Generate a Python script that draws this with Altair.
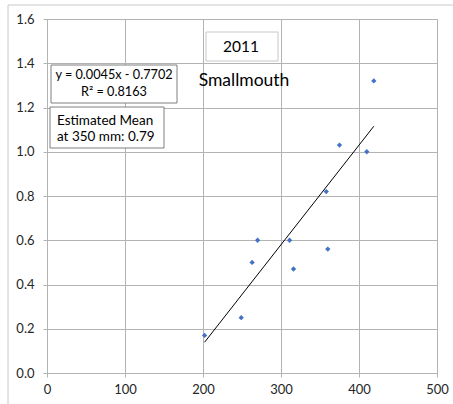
import altair as alt
import pandas as pd

# Data
lengths = [202, 249, 263, 270, 311, 316, 358, 360, 375, 410, 419]
values = [0.17, 0.25, 0.50, 0.60, 0.60, 0.47, 0.82, 0.56, 1.03, 1.00, 1.32]
slope = 0.0045
intercept = -0.7702
x_ticks = [0, 100, 200, 300, 400, 500]
y_ticks = [0.0, 0.2, 0.4, 0.6, 0.8, 1.0, 1.2, 1.4, 1.6]
year_label = "2011"
species_label = "Smallmouth"
eq_lines = ["y = 0.0045x - 0.7702", "R² = 0.8163"]
mean_lines = ["Estimated Mean", "at 350 mm: 0.79"]

FONT = "Lato"
GRID = "#b3b3b3"

pts = pd.DataFrame({"x": lengths, "y": values})
xmin, xmax = min(lengths), max(lengths)
trend = pd.DataFrame({"x": [xmin, xmax],
                      "y": [slope * xmin + intercept, slope * xmax + intercept]})

xscale = alt.Scale(domain=[0, 500], nice=False, zero=False)
yscale = alt.Scale(domain=[0, 1.6], nice=False, zero=False)

xaxis = alt.Axis(values=x_ticks, title=None, grid=True, gridColor=GRID,
                 domainColor=GRID, tickColor=GRID, tickSize=4, labelPadding=6,
                 labelFontSize=13, labelFont=FONT, labelColor="#262626",
                 labelFlush=False)
yaxis = alt.Axis(values=y_ticks, title=None, grid=True, gridColor=GRID,
                 domainColor=GRID, tickColor=GRID, tickSize=4, labelPadding=9,
                 labelFontSize=13, labelFont=FONT, labelColor="#262626",
                 format=".1f", labelFlush=False)

one = pd.DataFrame({"a": [0]})

border = alt.Chart(one).mark_rect(fill=None, stroke="#c8c8c8", strokeWidth=1).encode(
    x=alt.value(-39), x2=alt.value(410), y=alt.value(-14), y2=alt.value(390))

points = alt.Chart(pts).mark_point(shape="diamond", filled=True, size=28,
                                   color="#4472C4", opacity=1).encode(
    x=alt.X("x:Q", scale=xscale, axis=xaxis),
    y=alt.Y("y:Q", scale=yscale, axis=yaxis))

line = alt.Chart(trend).mark_line(color="black", strokeWidth=1).encode(
    x=alt.X("x:Q", scale=xscale), y=alt.Y("y:Q", scale=yscale))

box_year = alt.Chart(one).mark_rect(fill="white", stroke="#c8c8c8", strokeWidth=1).encode(
    x=alt.value(159), x2=alt.value(231), y=alt.value(13), y2=alt.value(42))
txt_year = alt.Chart(one).mark_text(text=year_label, font=FONT, fontSize=15.5,
                                    align="center", baseline="middle", color="black").encode(
    x=alt.value(194), y=alt.value(27.5))
txt_species = alt.Chart(one).mark_text(text=species_label, font=FONT, fontSize=17.5,
                                       align="center", baseline="middle", color="black").encode(
    x=alt.value(197), y=alt.value(62))

box_eq = alt.Chart(one).mark_rect(fill="white", stroke="#7f7f7f", strokeWidth=1).encode(
    x=alt.value(4), x2=alt.value(130), y=alt.value(46), y2=alt.value(84))
txt_eq = alt.Chart(one).mark_text(text=eq_lines, font=FONT, fontSize=12.7, lineHeight=17.5,
                                  align="center", baseline="top", color="black").encode(
    x=alt.value(67), y=alt.value(49.5))

box_mean = alt.Chart(one).mark_rect(fill="white", stroke="#7f7f7f", strokeWidth=1).encode(
    x=alt.value(3), x2=alt.value(117), y=alt.value(88), y2=alt.value(129))
txt_mean = alt.Chart(one).mark_text(text=mean_lines, font=FONT, fontSize=13.5, lineHeight=16,
                                    align="left", baseline="top", color="black").encode(
    x=alt.value(10), y=alt.value(95))

chart = alt.layer(border, points, line, box_year, txt_year, txt_species,
                  box_eq, txt_eq, box_mean, txt_mean).properties(
    width=390, height=354,
    autosize=alt.AutoSizeParams(type="none"),
    padding={"left": 47, "top": 19, "right": 16, "bottom": 31},
    background="white",
).configure_view(stroke=GRID)

chart.save("out.html", embed_options={"renderer": "svg", "actions": False})
